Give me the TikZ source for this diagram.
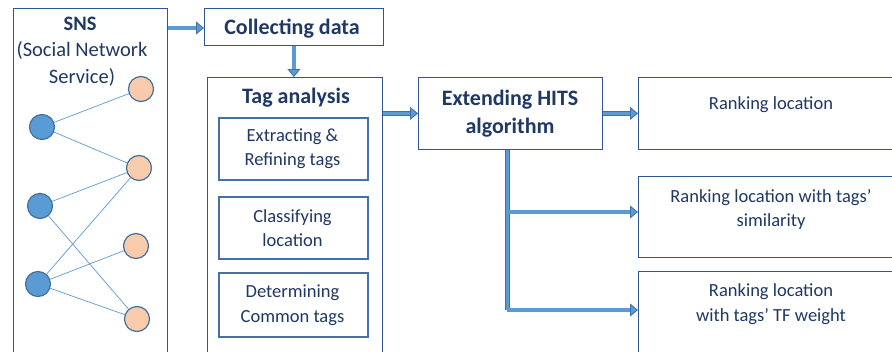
\documentclass[tikz,border=0pt]{standalone}
\usepackage{fontspec}
\setmainfont{Carlito}
\usetikzlibrary{arrows.meta,calc}
\definecolor{navy}{HTML}{1F3864}
\definecolor{boxline}{HTML}{2F5597}
\definecolor{subline}{HTML}{4472A8}
\definecolor{arrfill}{HTML}{5B9BD5}
\definecolor{arredge}{HTML}{41719C}
\definecolor{peach}{HTML}{F8CBAD}
\tikzset{
  box/.style={draw=boxline, line width=0.8pt, fill=white, anchor=north west, inner sep=0pt},
  subbox/.style={draw=subline, line width=1.5pt, fill=white, anchor=north west, inner sep=0pt, minimum width=149pt},
  txt/.style={text=navy, font=\fontsize{18.5}{24.5}\selectfont, align=center, inner sep=0pt},
  btxt/.style={text=navy, font=\fontsize{22}{28}\selectfont\bfseries, align=center, inner sep=0pt},
  snstxt/.style={text=navy, font=\fontsize{20.5}{27}\selectfont, align=center, inner sep=0pt},
  bnode/.style={circle, draw=arredge, line width=1.2pt, fill=arrfill, minimum size=25pt, inner sep=0pt},
  onode/.style={circle, draw=arredge, line width=1.2pt, fill=peach, minimum size=25pt, inner sep=0pt},
  edge/.style={draw=arrfill, line width=0.7pt},
  flow/.style={draw=arredge, line width=0.8pt, double=arrfill, double distance=3.2pt,
    -{Triangle[length=8pt,width=13pt,fill=arrfill]}},
  flowline/.style={draw=arredge, line width=0.8pt, double=arrfill, double distance=3.2pt}
}
\begin{document}
\begin{tikzpicture}[x=1pt,y=-1pt]
\useasboundingbox (0,0) rectangle (892,351);
\clip (0,0) rectangle (892,351);
% SNS box
\node[box, minimum width=154pt, minimum height=360pt] (sns) at (13,8) {};
\node[btxt, font=\fontsize{20.5}{27}\selectfont\bfseries] (snst) at (80,24) {SNS};
\node[snstxt] (snst2) at (82,63.5) {(Social Network\\Service)};
% circles
\node[onode] (o1) at (141,89) {};
\node[onode] (o2) at (139,168) {};
\node[onode] (o3) at (136,246) {};
\node[onode] (o4) at (137,319) {};
\node[bnode] (b1) at (42,127) {};
\node[bnode] (b2) at (40,206) {};
\node[bnode] (b3) at (38,284) {};
\draw[edge] (b1) -- (o1);
\draw[edge] (b1) -- (o2);
\draw[edge] (b2) -- (o2);
\draw[edge] (b2) -- (o4);
\draw[edge] (b3) -- (o2);
\draw[edge] (b3) -- (o3);
\draw[edge] (b3) -- (o4);
% Collecting data
\node[box, minimum width=179pt, minimum height=37pt] (collect) at (204,8) {};
\node[btxt] (collectt) at (292,29) {Collecting data};
% Tag analysis
\node[box, minimum width=175pt, minimum height=300pt] (tag) at (207,77) {};
\node[btxt] (tagt) at (296,98) {Tag analysis};
\node[subbox, minimum height=62pt] (s1) at (218,117) {};
\node[txt] (s1t) at (292.5,148.5) {Extracting \&\\Refining tags};
\node[subbox, minimum height=62pt] (s2) at (218,196) {};
\node[txt] (s2t) at (292.5,228) {Classifying\\location};
\node[subbox, minimum height=64pt] (s3) at (218,272) {};
\node[txt] (s3t) at (292.5,305) {Determining\\Common tags};
% HITS
\node[box, minimum width=184pt, minimum height=72pt] (hits) at (418,77) {};
\node[btxt] (hitst) at (510,114) {Extending HITS\\algorithm};
% Ranking boxes
\node[box, minimum width=270pt, minimum height=72pt] (r1) at (638,77) {};
\node[txt] (r1t) at (771,105) {Ranking location};
\node[box, minimum width=270pt, minimum height=81pt] (r2) at (638,176) {};
\node[txt] (r2t) at (771,209.5) {Ranking location with tags’\\similarity};
\node[box, minimum width=270pt, minimum height=100pt] (r3) at (638,271) {};
\node[txt] (r3t) at (771,304) {Ranking location\\with tags’ TF weight};
% arrows
\draw[flow] (sns.east |- 0,28) -- (collect.west |- 0,28);
\draw[flow] (collect.south) -- (tag.north -| collect.south);
\draw[flow] (tag.east |- hits.west) -- (hits.west);
\draw[flow] (hits.east) -- (r1.west |- hits.east);
\coordinate (j0) at ($(hits.south)+(-3,0)$);
\coordinate (j2) at (j0 |- 0,212);
\coordinate (j3) at (j0 |- 0,310);
\draw[flowline] (j0) -- (j3);
\draw[flow] (j2) -- (r2.west |- j2);
\draw[flow] (j3) -- (r3.west |- j3);
\end{tikzpicture}
\end{document}
